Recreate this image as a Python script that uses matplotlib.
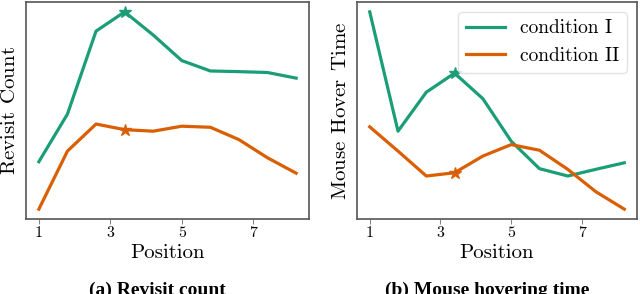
import matplotlib
matplotlib.use("Agg")
import matplotlib.pyplot as plt

plt.rcParams['font.family'] = 'serif'
plt.rcParams['font.serif'] = ['cmr10', 'DejaVu Serif']
plt.rcParams['mathtext.fontset'] = 'cm'
plt.rcParams['axes.formatter.use_mathtext'] = True

positions = [1.0, 1.8, 2.6, 3.4, 4.2, 5.0, 5.8, 6.6, 7.4, 8.2]
xticks = [1, 3, 5, 7]

revisit_cond1 = [26.2, 48.2, 86.5, 95.4, 84.7, 72.9, 68.1, 67.8, 67.4, 64.8]
revisit_cond2 = [4.3, 31.1, 43.6, 41.0, 40.3, 42.6, 42.1, 36.4, 28.0, 20.9]

hover_cond1 = [95.4, 40.3, 58.3, 67.1, 55.3, 35.7, 23.0, 19.6, 22.7, 25.7]
hover_cond2 = [42.3, 31.1, 19.6, 21.1, 28.8, 34.1, 31.5, 22.7, 12.3, 4.3]

star_index = 3
series_labels = ['condition I', 'condition II']
colors = ['#1b9e77', '#d95f02']

fig = plt.figure(figsize=(6.4, 2.94), dpi=100)
ax1 = fig.add_axes([26/640, 75/294, 283/640, 217/294])
ax2 = fig.add_axes([357/640, 75/294, 280/640, 217/294])

def style(ax, ylabel):
    for s in ax.spines.values():
        s.set_color('#555555')
        s.set_linewidth(1.2)
    ax.set_xticks(xticks)
    ax.set_xticklabels([str(t) for t in xticks], fontsize=11.5)
    ax.set_yticks([])
    ax.tick_params(axis='x', direction='out', length=3.5, width=0.8, color='#888888', pad=2)
    ax.set_xlabel('Position', fontsize=15, labelpad=3)
    ax.set_ylabel(ylabel, fontsize=15, labelpad=5)

for ax, d1, d2, yl in [(ax1, revisit_cond1, revisit_cond2, r'Revisit$\;\,$Count'),
                       (ax2, hover_cond1, hover_cond2, r'Mouse$\;\,$Hover$\;\,$Time')]:
    ax.plot(positions, d1, color=colors[0], lw=2.3, marker='*', markevery=[star_index],
            markersize=9, label=series_labels[0])
    ax.plot(positions, d2, color=colors[1], lw=2.3, marker='*', markevery=[star_index],
            markersize=9, label=series_labels[1])
    style(ax, yl)

ax2.legend(handles=[plt.Line2D([], [], color=colors[0], lw=2.3),
                    plt.Line2D([], [], color=colors[1], lw=2.3)],
           labels=series_labels, loc='upper right', fontsize=14,
           frameon=True, edgecolor='#dddddd', borderaxespad=0.5, handlelength=2.0)

fig.text(157/640, -0.004, '(a) Revisit count', ha='center', va='baseline',
         fontsize=14, fontweight='bold', family='Liberation Serif')
fig.text(487/640, -0.004, '(b) Mouse hovering time', ha='center', va='baseline',
         fontsize=14, fontweight='bold', family='Liberation Serif')

fig.savefig('out.png', dpi=100)
